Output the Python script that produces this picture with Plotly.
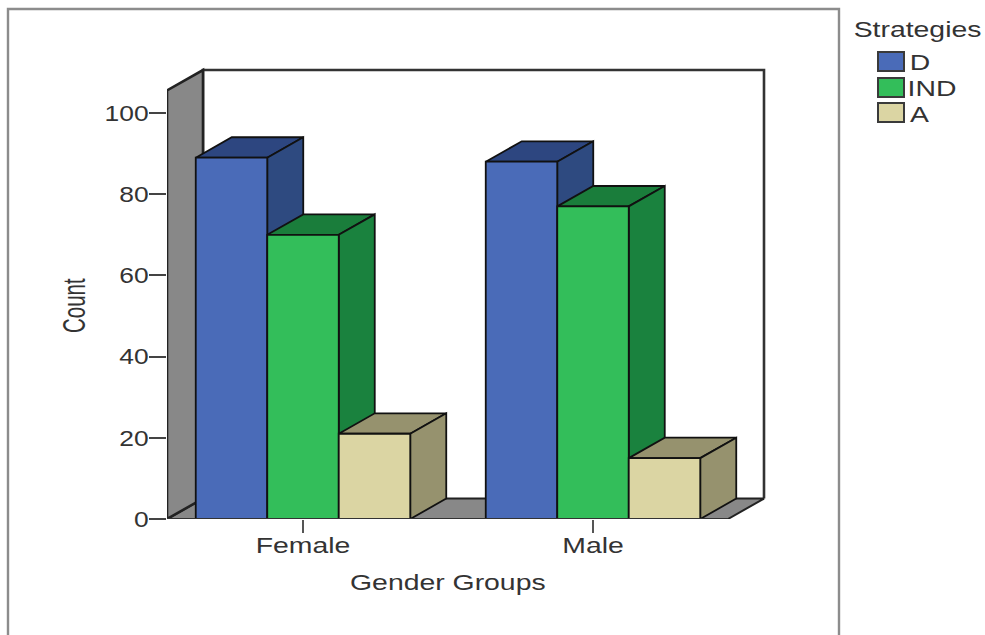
import plotly.graph_objects as go

# Survey counts by gender and strategy
groups = ["Female", "Male"]
strategies = ["D", "IND", "A"]
female_counts = [89, 70, 21]
male_counts = [88, 77, 15]

front_colors = ["#4A6BB8", "#33BE5A", "#DBD5A3"]
top_colors = ["#2D4680", "#1A7D3B", "#96926E"]
side_colors = ["#2E4A80", "#1A823E", "#96926E"]
wall_color = "#888888"

y_ticks = [0, 20, 40, 60, 80, 100]

# Figure geometry; the plot area leaves a small pad around the back wall
WIDTH, HEIGHT = 985, 635
PAD = 5
M_L, M_R, M_T, M_B = 167, 221 - PAD, 70 - PAD, 116
PLOT_W = WIDTH - M_L - M_R
PLOT_H = HEIGHT - M_T - M_B

# Axis ranges: one category step and the count scale
STEP_PX = 290
COUNT_PX = 4.06
X0 = -136 / STEP_PX
X1 = X0 + PLOT_W / STEP_PX
Y1 = PLOT_H / COUNT_PX

# Back wall limits
WALL_RIGHT = X1 - PAD / STEP_PX
WALL_TOP = Y1 - PAD / COUNT_PX

# Oblique projection offset of the 3D look, in axis units
DX = 36 / STEP_PX
DY = 20.4 / COUNT_PX
BAR_W = 71.5 / STEP_PX
FRONT_RIGHT = WALL_RIGHT - DX
WALL_FRONT_TOP = WALL_TOP - DY


def polygon(xs, ys, fill, name, line_color="#111111", line_width=1.8):
    return go.Scatter(
        x=xs + xs[:1], y=ys + ys[:1], mode="lines", fill="toself",
        fillcolor=fill, line=dict(color=line_color, width=line_width),
        name=name, hoverinfo="skip", showlegend=False, cliponaxis=False,
    )


fig = go.Figure()

# Chart floor and side wall behind the bars
fig.add_trace(go.Scatter(
    x=[X0 + DX, X0 + DX, WALL_RIGHT, WALL_RIGHT], y=[DY, WALL_TOP, WALL_TOP, DY], mode="lines",
    cliponaxis=False, line=dict(color="#333333", width=2.6), name="back wall",
    hoverinfo="skip", showlegend=False,
))
fig.add_trace(polygon([X0, X0 + DX, WALL_RIGHT, FRONT_RIGHT], [0, DY, DY, 0], wall_color, "floor", "#222222", 2))
fig.add_trace(polygon([X0, X0 + DX, X0 + DX, X0], [0, DY, WALL_TOP, WALL_FRONT_TOP], wall_color, "wall", "#222222", 2.6))

# Extruded bars, drawn left to right so each front hides its neighbour's side
for g_index, counts in enumerate([female_counts, male_counts]):
    for s_index, value in enumerate(counts):
        left = g_index + (s_index - 1.5) * BAR_W
        right = left + BAR_W
        name = f"{groups[g_index]} {strategies[s_index]}"
        fig.add_trace(polygon([left, left + DX, right + DX, right], [value, value + DY, value + DY, value],
                              top_colors[s_index], name + " top"))
        fig.add_trace(polygon([right, right + DX, right + DX, right], [0, DY, value + DY, value],
                              side_colors[s_index], name + " side"))
        fig.add_trace(polygon([left, right, right, left], [0, 0, value, value],
                              front_colors[s_index], name))

# Baseline along the front edge of the floor
fig.add_trace(go.Scatter(x=[X0, FRONT_RIGHT], y=[0, 0], mode="lines", cliponaxis=False,
                         line=dict(color="#333333", width=2.2), hoverinfo="skip", showlegend=False))


def paper_x(px):
    return (px - M_L) / PLOT_W


def paper_y(px):
    return 1 - (px - M_T) / PLOT_H


text_font = dict(family="Liberation Sans, Arial, sans-serif", size=22, color="#333333")

shapes = [dict(
    type="path", xref="paper", yref="paper", layer="below",
    path=(f"M {paper_x(8)} {paper_y(640)} L {paper_x(8)} {paper_y(9)} "
          f"L {paper_x(839)} {paper_y(9)} L {paper_x(839)} {paper_y(640)}"),
    line=dict(color="#8C8C8C", width=2.4),
)]

annotations = [
    dict(text="Gender Groups", x=paper_x(448), y=paper_y(582), xref="paper", yref="paper",
         showarrow=False, font=text_font, xanchor="center", yanchor="middle"),
    dict(text="Count", x=paper_x(74), y=paper_y(305), xref="paper", yref="paper", textangle=-90,
         showarrow=False, font=dict(text_font, size=31), xanchor="center", yanchor="middle"),
    dict(text="Strategies", x=paper_x(918), y=paper_y(29), xref="paper", yref="paper",
         showarrow=False, font=text_font, xanchor="center", yanchor="middle"),
]

# Hand-placed key beside the chart
for label, color, top_px, label_center in zip(strategies, front_colors, [52, 78, 103], [920, 932, 919]):
    shapes.append(dict(
        type="rect", xref="paper", yref="paper",
        x0=paper_x(878), x1=paper_x(904), y0=paper_y(top_px), y1=paper_y(top_px + 19),
        fillcolor=color, line=dict(color="#3A3A3A", width=2),
    ))
    annotations.append(dict(
        text=label, x=paper_x(label_center), y=paper_y(top_px + 11), xref="paper", yref="paper",
        showarrow=False, font=text_font, xanchor="center", yanchor="middle",
    ))

fig.update_layout(
    width=WIDTH, height=HEIGHT, margin=dict(l=M_L, r=M_R, t=M_T, b=M_B),
    paper_bgcolor="white", plot_bgcolor="white", showlegend=False,
    shapes=shapes, annotations=annotations,
    xaxis=dict(range=[X0, X1], tickvals=[0, 1], ticktext=groups, showgrid=False, zeroline=False,
               showline=False, ticks="outside", ticklen=13, tickwidth=2.4, tickcolor="#555555",
               tickfont=text_font, ticklabelstandoff=-6, fixedrange=True),
    yaxis=dict(range=[0, Y1], tickvals=y_ticks, showgrid=False, zeroline=False, showline=False,
               ticks="outside", ticklen=17, tickwidth=2, tickcolor="#444444",
               tickfont=text_font, ticklabelstandoff=-4, fixedrange=True),
)

# The typeface is set wide: stretch each label along its baseline
widen_text = """
document.querySelectorAll('.main-svg text').forEach(function (t) {
  var s = t.textContent;
  var factor = s === 'Count' ? 0.66 : (/^[0-9]+$/.test(s) ? 1.2 : 1.29);
  var w = t.getComputedTextLength();
  if (w > 0) {
    t.setAttribute('lengthAdjust', 'spacingAndGlyphs');
    t.setAttribute('textLength', w * factor);
  }
});
"""

fig.write_html("out.html", post_script=widen_text, config=dict(displayModeBar=False))
